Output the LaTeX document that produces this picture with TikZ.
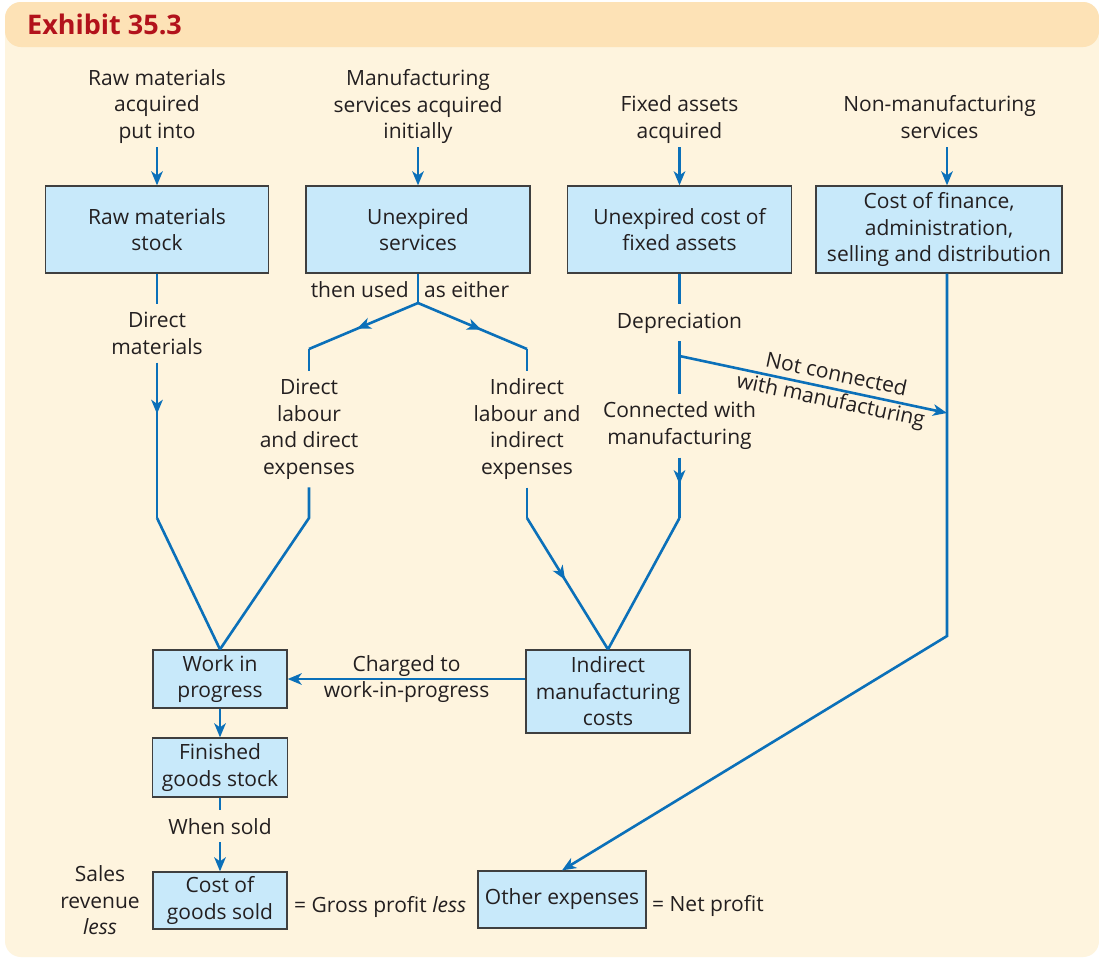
\documentclass[tikz,border=0pt]{standalone}
\usepackage{fontspec}
\setmainfont{Open Sans}
\usetikzlibrary{arrows.meta,decorations.markings}
\definecolor{bandcol}{HTML}{FDE2B6}
\definecolor{bodycol}{HTML}{FEF4DE}
\definecolor{boxfill}{HTML}{C8E9FA}
\definecolor{boxline}{HTML}{3F3F3F}
\definecolor{flowcol}{HTML}{0B70B9}
\definecolor{txtcol}{HTML}{231F20}
\definecolor{titlecol}{HTML}{B2121B}
\begin{document}
\begin{tikzpicture}[x=1pt,y=-1pt,
  every node/.style={text=txtcol, font=\fontsize{21}{26.5}\selectfont},
  box/.style={draw=boxline, fill=boxfill, line width=1.3pt, inner sep=0pt, align=center},
  lbl/.style={align=center, inner sep=8pt},
  flow/.style={draw=flowcol, line width=2.6pt},
  >={Stealth[length=14pt,width=11.5pt,inset=4pt]},
  midtip/.style={postaction={decorate}, decoration={markings, mark=at position #1 with {\arrow{Stealth[length=14pt,width=11.5pt,inset=4pt]}}}}
]
\path[use as bounding box] (0,0) rectangle (1099,959);
\fill[white] (0,0) rectangle (1099,959);
\fill[bodycol, rounded corners=16pt] (5,2) rectangle (1099,957);
\fill[bandcol, rounded corners=16pt] (5,2) rectangle (1099,47);
\node[anchor=base west, font=\fontsize{27}{32}\selectfont\bfseries, text=titlecol, inner sep=0pt] (title) at (27,34) {Exhibit 35.3};

% boxes
\node[box, minimum width=223pt, minimum height=87pt] (rms) at (157,229.5) {Raw materials\\stock};
\node[box, minimum width=224pt, minimum height=87pt] (ues) at (418,229.5) {Unexpired\\services};
\node[box, minimum width=224pt, minimum height=87pt] (ucf) at (679.5,229.5) {Unexpired cost of\\fixed assets};
\node[box, minimum width=246pt, minimum height=87pt] (cfin) at (939,229.5) {Cost of finance,\\administration,\\selling and distribution};
\node[box, minimum width=134pt, minimum height=58pt] (wip) at (220,679) {Work in\\progress};
\node[box, minimum width=164pt, minimum height=83pt] (imc) at (608,691.5) {Indirect\\manufacturing\\costs};
\node[box, minimum width=135pt, minimum height=59pt] (fgs) at (220,767.5) {Finished\\goods stock};
\node[box, minimum width=134pt, minimum height=57pt] (cgs) at (220,900.5) {Cost of\\goods sold};
\node[box, minimum width=168pt, minimum height=57pt] (oe) at (562,899.5) {Other expenses};

% top labels
\node[align=center, inner sep=0pt] (rmlab) at (157,106.5) {Raw materials\\acquired\\put into};
\node[align=center, inner sep=0pt] (mslab) at (418,106.5) {Manufacturing\\services acquired\\initially};
\node[align=center, inner sep=0pt] (falab) at (679.5,119.75) {Fixed assets\\acquired};
\node[align=center, inner sep=0pt] (nmlab) at (939.5,117.25) {Non-manufacturing\\services};
\coordinate (rmin) at (157,147);
\coordinate (msin) at (418,147);
\coordinate (fain) at (679.5,147);
\coordinate (nmin) at (947,147);
\draw[flow,->] (rmin) -- (rms.north);
\draw[flow,->] (msin) -- (ues.north);
\draw[flow,->] (fain) -- (ucf.north);
\draw[flow,->] (nmin) -- (nmin |- cfin.north);

% raw materials branch
\node[lbl] (dm) at (157,333.25) {Direct\\materials};
\coordinate (dmk) at (157,518);
\draw[flow] (rms.south) -- (dm.north);
\draw[flow, midtip=0.33] (dm.south) -- (dmk);
\draw[flow] (dmk) -- (wip.north);

% unexpired services branch
\node[anchor=base east, inner sep=0pt] (tu) at (409,297) {then used};
\node[anchor=base west, inner sep=0pt] (ae) at (424,297) {as either};
\coordinate (br) at (418,303);
\coordinate (dlk) at (309,349);
\coordinate (ilk) at (527,349);
\node[lbl] (dl) at (309,429.25) {Direct\\labour\\and direct\\expenses};
\node[lbl] (il) at (527,429.25) {Indirect\\labour and\\indirect\\expenses};
\coordinate (dlb) at (309,518);
\coordinate (ilb) at (527,518);
\draw[flow] (ues.south) -- (br);
\draw[flow, midtip=0.56] (br) -- (dlk);
\draw[flow] (dlk) -- (dl.north);
\draw[flow, midtip=0.58] (br) -- (ilk);
\draw[flow] (ilk) -- (il.north);
\draw[flow] (dl.south) -- (dlb) -- (wip.north);
\draw[flow] (il.south) -- (ilb);
\draw[flow, midtip=0.47] (ilb) -- (imc.north);

% fixed assets branch
\node[lbl, anchor=base] (dep) at (679.5,328) {Depreciation};
\node[lbl] (cw) at (679.5,425.75) {Connected with\\manufacturing};
\coordinate (ncs) at (679.5,356);
\coordinate (nce) at (947,413);
\coordinate (cwb) at (679.5,518);
\draw[flow] (ucf.south) -- (dep.north);
\draw[flow] (dep.south) -- (cw.north);
\draw[flow,->] (ncs) -- (nce) node[pos=0.575, sloped, align=center, inner sep=0pt] (ncl) {Not connected\\with manufacturing};
\draw[flow, midtip=0.44] (cw.south) -- (cwb);
\draw[flow] (cwb) -- (imc.north);

% non-manufacturing branch
\coordinate (cfk) at (947,636);
\draw[flow,->] (cfk |- cfin.south) -- (cfk) -- (oe.north);

% charged to WIP
\draw[flow,->] (imc.west |- wip.east) -- (wip.east) node[midway, align=center, inner sep=0pt] (chg) {Charged to\\work-in-progress};

% lower chain
\draw[flow,->] (wip.south) -- (fgs.north);
\node[lbl, anchor=base] (ws) at (220,834) {When sold};
\draw[flow] (fgs.south) -- (ws.north);
\draw[flow,->] (ws.south) -- (cgs.north);

\node[align=center, inner sep=0pt] (sales) at (100,900.5) {Sales\\revenue\\\textit{less}};
\node[anchor=base west, inner sep=0pt] (gp) at (294,912) {= Gross profit \textit{less}};
\node[anchor=base west, inner sep=0pt] (np) at (652,911) {= Net profit};
\end{tikzpicture}
\end{document}
